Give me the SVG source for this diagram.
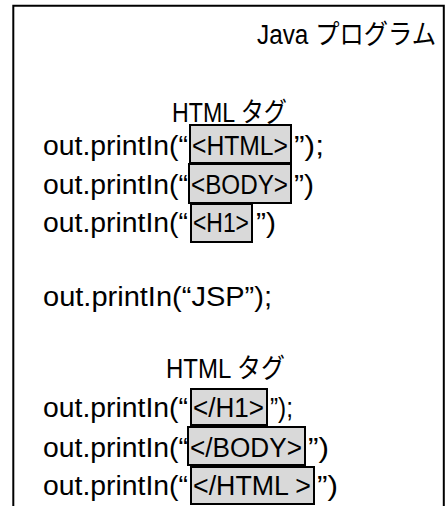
<svg xmlns="http://www.w3.org/2000/svg" width="446" height="506" viewBox="0 0 446 506">
<style>
text{font-family:"Liberation Sans","Noto Sans CJK JP",sans-serif;font-size:27px;fill:#000}
.tag{fill:#d9d9d9;stroke:#000;stroke-width:2}
.frame{fill:none;stroke:#000;stroke-width:2}
</style>
<rect width="446" height="506" fill="#fff"/>
<path class="frame" d="M13.3,506 V5.8 H443.8 V506"/>
<g id="title"><text x="257" y="44" textLength="179" lengthAdjust="spacingAndGlyphs">Java プログラム</text></g>
<g id="heading1"><text x="172" y="122" textLength="115" lengthAdjust="spacingAndGlyphs">HTML タグ</text></g>
<g id="line-html">
<rect class="tag" x="190" y="125" width="101" height="38"/>
<text x="43" y="155" textLength="145" lengthAdjust="spacingAndGlyphs">out.printIn(“</text>
<text x="192" y="155" textLength="96" lengthAdjust="spacingAndGlyphs">&lt;HTML&gt;</text>
<text x="294" y="155" textLength="30" lengthAdjust="spacingAndGlyphs">”);</text>
</g>
<g id="line-body">
<rect class="tag" x="189" y="164" width="102" height="39"/>
<text x="43" y="194" textLength="145" lengthAdjust="spacingAndGlyphs">out.printIn(“</text>
<text x="191" y="194" textLength="97" lengthAdjust="spacingAndGlyphs">&lt;BODY&gt;</text>
<text x="294" y="194" textLength="20" lengthAdjust="spacingAndGlyphs">”)</text>
</g>
<g id="line-h1">
<rect class="tag" x="191" y="204" width="61" height="38"/>
<text x="43" y="232" textLength="145" lengthAdjust="spacingAndGlyphs">out.printIn(“</text>
<text x="193" y="232" textLength="56" lengthAdjust="spacingAndGlyphs">&lt;H1&gt;</text>
<text x="256" y="232" textLength="20" lengthAdjust="spacingAndGlyphs">”)</text>
</g>
<g id="line-jsp">
<text x="43" y="306" textLength="229" lengthAdjust="spacingAndGlyphs">out.printIn(“JSP”);</text>
</g>
<g id="heading2"><text x="166" y="378" textLength="119" lengthAdjust="spacingAndGlyphs">HTML タグ</text></g>
<g id="line-close-h1">
<rect class="tag" x="191" y="389" width="76" height="36"/>
<text x="43" y="417" textLength="145" lengthAdjust="spacingAndGlyphs">out.printIn(“</text>
<text x="193" y="417" textLength="71" lengthAdjust="spacingAndGlyphs">&lt;/H1&gt;</text>
<text x="270" y="417" textLength="23" lengthAdjust="spacingAndGlyphs">”);</text>
</g>
<g id="line-close-body">
<rect class="tag" x="188" y="427" width="117" height="38"/>
<text x="43" y="457" textLength="145" lengthAdjust="spacingAndGlyphs">out.printIn(“</text>
<text x="190" y="457" textLength="112" lengthAdjust="spacingAndGlyphs">&lt;/BODY&gt;</text>
<text x="308" y="457" textLength="21" lengthAdjust="spacingAndGlyphs">”)</text>
</g>
<g id="line-close-html">
<rect class="tag" x="191" y="467" width="123" height="37"/>
<text x="43" y="495" textLength="145" lengthAdjust="spacingAndGlyphs">out.printIn(“</text>
<text x="193" y="495" textLength="118" lengthAdjust="spacingAndGlyphs">&lt;/HTML &gt;</text>
<text x="317" y="495" textLength="21" lengthAdjust="spacingAndGlyphs">”)</text>
</g>
</svg>
